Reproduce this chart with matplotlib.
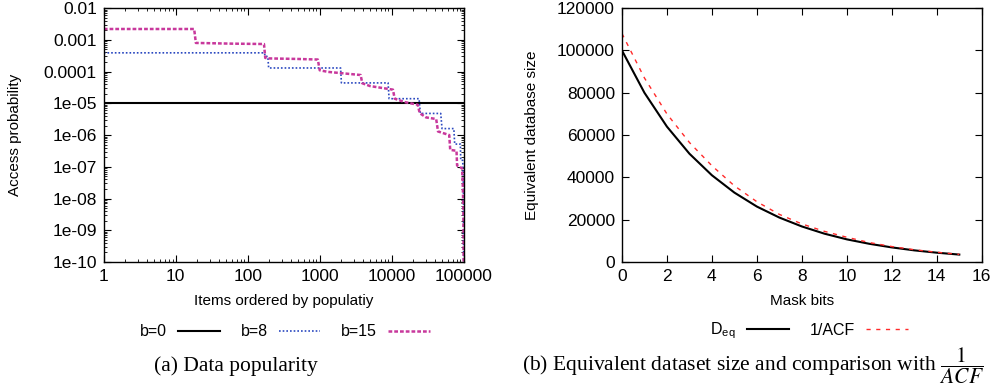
import numpy as np
import matplotlib
matplotlib.use("Agg")
import matplotlib.pyplot as plt
from matplotlib.ticker import FixedLocator, LogLocator, NullFormatter

plt.rcParams["font.family"] = ["Liberation Sans", "DejaVu Sans"]
plt.rcParams["font.size"] = 11
plt.rcParams["mathtext.fontset"] = "stix"

# (a) data popularity, vertices
b0_x = [1, 100000]
b0_y = [1e-5, 1e-5]

b8_x = [1, 170, 175, 190, 195, 1950, 2000, 8900, 9200, 24000, 25000, 48000, 50000,
        73000, 75000, 90000, 91000, 97000, 98500, 99500, 100000]
b8_y = [3.9e-4, 3.9e-4, 3.0e-4, 3.0e-4, 1.3e-4, 1.3e-4, 4.4e-5, 4.4e-5, 1.4e-5, 1.4e-5,
        4.8e-6, 4.8e-6, 1.6e-6, 1.6e-6, 5.2e-7, 5.2e-7, 1.6e-7, 1.6e-7, 5e-8, 1e-8, 1e-11]

b15_x = [1, 18, 19, 60, 168, 175, 200, 500, 940, 1000, 1300, 2500, 3700, 3900, 5000,
         10400, 11000, 15000, 23000, 24500, 30000, 41500, 44000, 63000, 65000, 79500,
         81000, 95000, 97000, 99000, 99800, 100000]
b15_y = [2.2e-3, 2.2e-3, 8.0e-4, 7.6e-4, 7.4e-4, 2.7e-4, 2.6e-4, 2.5e-4, 2.4e-4, 1.1e-4,
         9.8e-5, 8.5e-5, 7.8e-5, 4.3e-5, 3.5e-5, 2.7e-5, 1.4e-5, 1.1e-5, 9e-6, 4.9e-6,
         3.6e-6, 3.2e-6, 1.3e-6, 1.0e-6, 3.4e-7, 3.2e-7, 1.1e-7, 9e-8, 3e-8, 5e-9, 1e-10, 1e-11]

# (b) equivalent database size
mask_bits = list(range(16))
d_eq = [100000, 80000, 64000, 51200, 41000, 32800, 26200, 21000, 16800, 13400,
        10700, 8600, 6900, 5500, 4400, 3500]
inv_acf = [108000, 87000, 70000, 56500, 45500, 36000, 28500, 22500, 18000, 14500,
           11700, 9200, 7300, 5800, 4600, 3600]

fig = plt.figure(figsize=(10.08, 3.87), dpi=100)
ax1 = fig.add_axes([0.103, 0.323, 0.357, 0.656])
ax2 = fig.add_axes([0.617, 0.323, 0.357, 0.656])

ax1.plot(b0_x, b0_y, color="black", lw=1.5, label="b=0")
ax1.plot(b8_x, b8_y, color="#2a48c0", lw=1.2, ls=(0, (1, 1.2)), label="b=8")
ax1.plot(b15_x, b15_y, color="#c8389c", lw=1.8, ls=(0, (1.5, 0.8)), label="b=15")
ax1.set_xscale("log")
ax1.set_yscale("log")
ax1.set_xlim(1, 100000)
ax1.set_ylim(1e-10, 1e-2)
ax1.xaxis.set_major_locator(FixedLocator([1, 10, 100, 1000, 10000, 100000]))
ax1.set_xticklabels(["1", "10", "100", "1000", "10000", "100000"])
ax1.yaxis.set_major_locator(FixedLocator([10.0 ** k for k in range(-10, -1)]))
ax1.set_yticklabels(["1e-10", "1e-09", "1e-08", "1e-07", "1e-06", "1e-05",
                     "0.0001", "0.001", "0.01"])
ax1.xaxis.set_minor_locator(LogLocator(base=10, subs=np.arange(2, 10)))
ax1.yaxis.set_minor_locator(LogLocator(base=10, subs=np.arange(2, 10), numticks=20))
ax1.xaxis.set_minor_formatter(NullFormatter())
ax1.yaxis.set_minor_formatter(NullFormatter())
ax1.set_xlabel("Items ordered by populatiy")
ax1.set_ylabel("Access probability")
ax1.yaxis.set_label_coords(-0.228, 0.5)
ax1.xaxis.set_label_coords(0.5, -0.128)

ax2.plot(mask_bits, d_eq, color="black", lw=1.5, label="D$_{\\mathregular{eq}}$")
ax2.plot(mask_bits, inv_acf, color="#ff2a2a", lw=1.0, ls=(0, (3, 4)), label="1/ACF")
ax2.set_xlim(0, 16)
ax2.set_ylim(0, 120000)
ax2.set_xticks(range(0, 17, 2))
ax2.set_yticks(range(0, 120001, 20000))
ax2.set_xlabel("Mask bits")
ax2.set_ylabel("Equivalent database size")
ax2.yaxis.set_label_coords(-0.23, 0.5)
ax2.xaxis.set_label_coords(0.5, -0.128)

for ax in (ax1, ax2):
    ax.tick_params(which="both", direction="in", top=True, right=True, labelsize=12.5)
    ax.tick_params(which="major", length=5, pad=5)
    ax.tick_params(which="minor", length=2.5)
    for s in ax.spines.values():
        s.set_linewidth(1.0)

leg_kw = dict(loc="center", ncol=3, frameon=False, markerfirst=False,
              handlelength=2.6, handletextpad=0.7, columnspacing=1.3, fontsize=11.5)
ax1.legend(bbox_to_anchor=(285 / 1008, 1 - 332 / 387), bbox_transform=fig.transFigure, **leg_kw)
ax2.legend(bbox_to_anchor=(809 / 1008, 1 - 331 / 387), bbox_transform=fig.transFigure, **leg_kw)

fig.text(236 / 1008, 1 - 366 / 387, "(a) Data popularity", ha="center", va="center",
         family="Liberation Serif", fontsize=15.5)
fig.text(753 / 1008, 1 - 366 / 387,
         "(b) Equivalent dataset size and comparison with $\\dfrac{1}{ACF}$",
         ha="center", va="center", family="Liberation Serif", fontsize=15.5)

fig.savefig("out.png", dpi=100)
